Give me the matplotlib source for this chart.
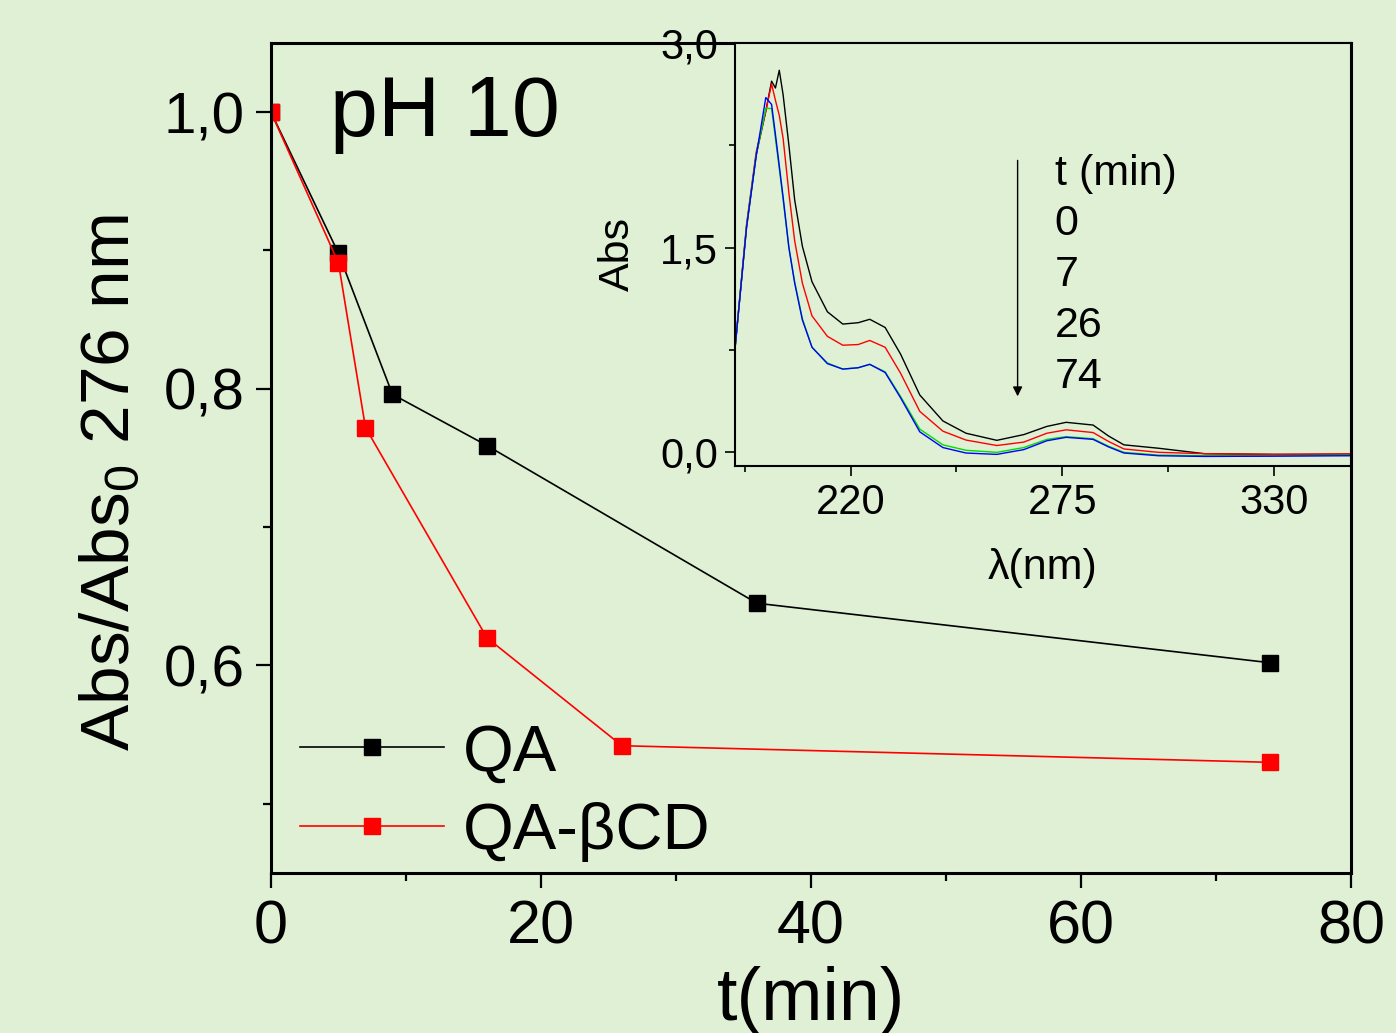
import matplotlib
matplotlib.use("Agg")
import matplotlib.pyplot as plt
from matplotlib.ticker import FuncFormatter, MultipleLocator

plt.rcParams["font.family"] = ["Liberation Sans", "DejaVu Sans"]
plt.rcParams["mathtext.fontset"] = "custom"
plt.rcParams["mathtext.rm"] = "Liberation Sans"
plt.rcParams["mathtext.it"] = "Liberation Sans:italic"

BG = "#dff0d5"

# main panel: normalised absorbance at 276 nm vs time
t_qa = [0, 5, 9, 16, 36, 74]
abs_qa = [1.0, 0.898, 0.796, 0.759, 0.645, 0.602]
t_cd = [0, 5, 7, 16, 26, 74]
abs_cd = [1.0, 0.891, 0.772, 0.620, 0.542, 0.530]

# inset: spectra at t = 0, 7, 26, 74 min
wl = [190, 193, 195.5, 198, 199.5, 200.5, 201.5, 202.5, 204, 205.5, 207.5, 210,
      214, 218, 222, 225, 229, 233, 238, 244, 250, 258, 265, 271, 276, 283, 287,
      291, 300, 312, 330, 350]
spec_0 = [0.76, 1.65, 2.18, 2.50, 2.72, 2.67, 2.80, 2.62, 2.25, 1.85, 1.51, 1.25,
          1.03, 0.94, 0.95, 0.975, 0.915, 0.72, 0.42, 0.23, 0.14, 0.088, 0.13, 0.19,
          0.22, 0.20, 0.12, 0.055, 0.03, -0.01, -0.015, -0.015]
spec_7 = [0.76, 1.67, 2.20, 2.50, 2.70, 2.58, 2.47, 2.30, 1.90, 1.55, 1.24, 1.00,
          0.85, 0.785, 0.79, 0.82, 0.77, 0.58, 0.30, 0.155, 0.09, 0.05, 0.075, 0.14,
          0.165, 0.145, 0.08, 0.025, 0.0, -0.01, -0.015, -0.01]
spec_26 = [0.76, 1.66, 2.18, 2.52, 2.52, 2.30, 2.08, 1.85, 1.50, 1.25, 0.98, 0.77,
           0.655, 0.61, 0.62, 0.645, 0.59, 0.41, 0.17, 0.055, 0.015, 0.0, 0.035, 0.095,
           0.115, 0.10, 0.045, 0.0, -0.02, -0.025, -0.025, -0.02]
spec_74 = [0.76, 1.65, 2.17, 2.60, 2.55, 2.33, 2.10, 1.87, 1.50, 1.24, 0.97, 0.77,
           0.65, 0.61, 0.62, 0.645, 0.585, 0.40, 0.15, 0.035, -0.005, -0.015, 0.02, 0.085,
           0.11, 0.095, 0.04, -0.005, -0.025, -0.03, -0.028, -0.025]
spectra = [spec_0, spec_7, spec_26, spec_74]
spec_colors = ["black", "red", "#00dd00", "blue"]
times = ["0", "7", "26", "74"]

comma = FuncFormatter(lambda v, p: f"{v:.1f}".replace(".", ","))

fig = plt.figure(figsize=(13.96, 10.33), dpi=100, facecolor=BG)
ax = fig.add_axes([0.1941, 0.1549, 0.7736, 0.8035], facecolor=BG)

ax.plot(t_qa, abs_qa, color="black", lw=1.2, marker="s", ms=11.5,
        mfc="black", mec="black", label="QA")
ax.plot(t_cd, abs_cd, color="red", lw=1.2, marker="s", ms=11.5,
        mfc="red", mec="red", label="QA-\u03b2CD")

ax.set_xlim(0, 80)
ax.set_ylim(0.45, 1.05)
ax.xaxis.set_major_locator(MultipleLocator(20))
ax.xaxis.set_minor_locator(MultipleLocator(10))
ax.yaxis.set_major_locator(MultipleLocator(0.2))
ax.yaxis.set_minor_locator(MultipleLocator(0.1))
ax.yaxis.set_major_formatter(comma)
ax.tick_params(which="both", direction="out", width=1.6, labelsize=44, pad=8)
ax.tick_params(axis="y", labelsize=42)
ax.tick_params(which="major", length=11)
ax.tick_params(which="minor", length=6)
for s in ax.spines.values():
    s.set_linewidth(2.2)

ax.set_xlabel("t(min)", fontsize=53, labelpad=7)
ax.set_ylabel("Abs/Abs$_0$ 276 nm", fontsize=50)
ax.yaxis.set_label_coords(-0.118, 0.47)
ax.text(4.4, 0.983, "pH 10", fontsize=62, va="baseline")

ax.legend(loc="center left", bbox_to_anchor=(0.027, 0.097), frameon=False,
          fontsize=47, handlelength=2.2, handletextpad=0.3, labelspacing=0.28,
          borderpad=0, borderaxespad=0)

# inset
ins = fig.add_axes([0.5265, 0.5489, 0.4413, 0.4095], facecolor=BG)
for spec, c in zip(spectra, spec_colors):
    ins.plot(wl, spec, color=c, lw=1.0)
ins.set_xlim(190, 350)
ins.set_ylim(-0.1, 3.0)
ins.set_xticks([220, 275, 330])
ins.set_xticks([192.5, 247.5, 302.5], minor=True)
ins.set_yticks([0.0, 1.5, 3.0])
ins.set_yticks([0.75, 2.25], minor=True)
ins.yaxis.set_major_formatter(comma)
ins.tick_params(which="both", direction="out", width=1.2, labelsize=30, pad=5)
ins.tick_params(which="major", length=7)
ins.tick_params(which="minor", length=4)
for s in ins.spines.values():
    s.set_linewidth(1.5)
ins.set_xlabel("\u03bb(nm)", fontsize=31, labelpad=18)
ins.set_ylabel("Abs", fontsize=31, labelpad=16)

ins.annotate("", xy=(263.4, 0.39), xytext=(263.4, 2.16),
             arrowprops=dict(arrowstyle="-|>", color="black", lw=1.0,
                             mutation_scale=14))
ins.text(273, 2.04, "t (min)", fontsize=31, va="center")
for i, lab in enumerate(times):
    ins.text(273, 1.67 - 0.373 * i, lab, fontsize=31, va="center")

fig.savefig("out.png", dpi=100, facecolor=BG)
